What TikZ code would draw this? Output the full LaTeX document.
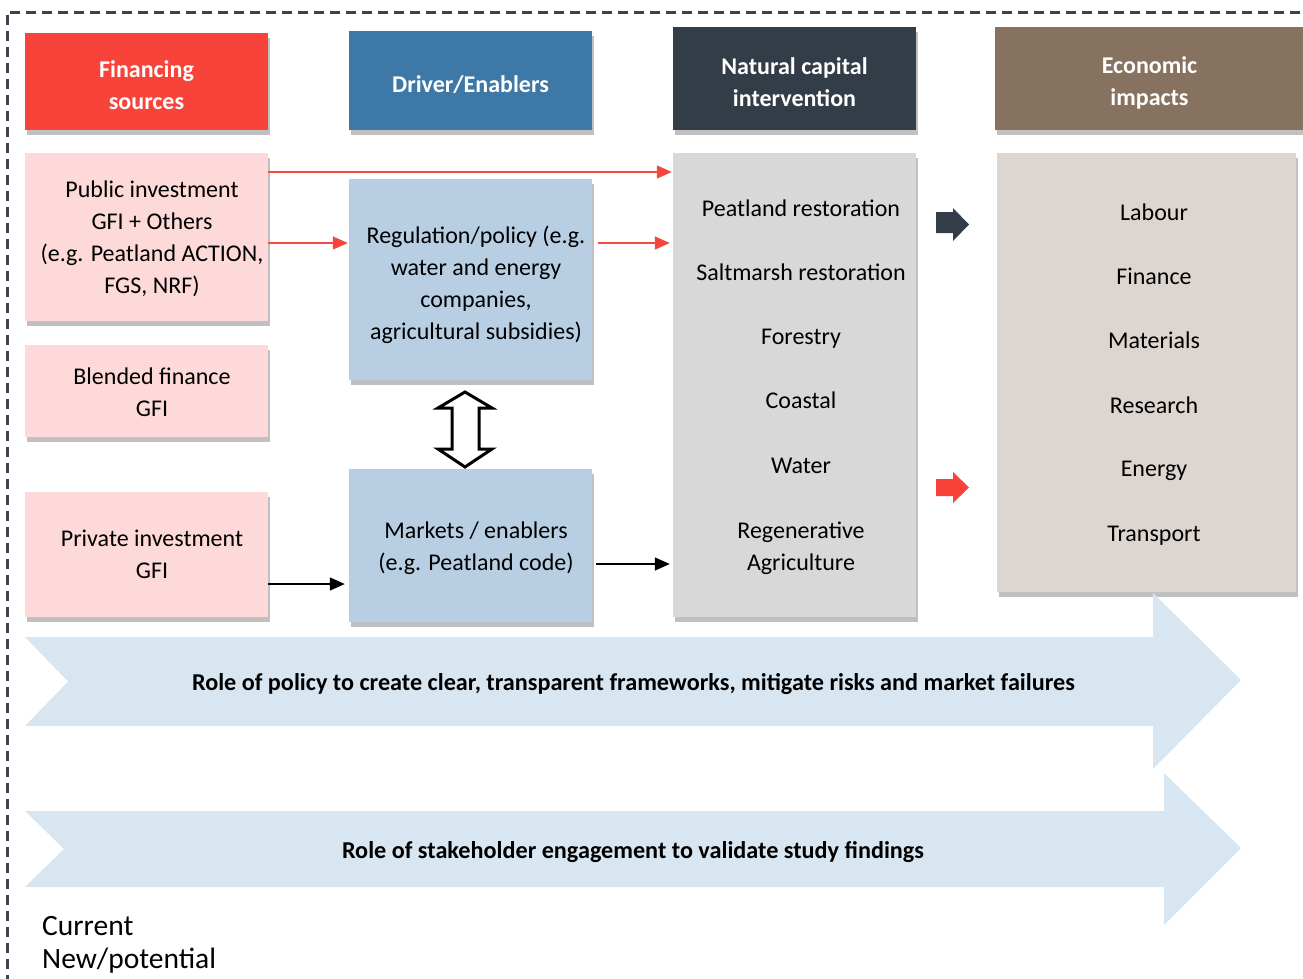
\documentclass[tikz,border=0pt]{standalone}
\usepackage{fontspec}
\setmainfont{Carlito}
\usetikzlibrary{arrows.meta,shadows}
\definecolor{hred}{HTML}{F8433B}
\definecolor{hblue}{HTML}{3E78A6}
\definecolor{hdark}{HTML}{333D48}
\definecolor{hbrown}{HTML}{86725F}
\definecolor{bpink}{HTML}{FDDAD9}
\definecolor{bblue}{HTML}{B8CFE3}
\definecolor{bgray}{HTML}{D8D8D8}
\definecolor{bbeige}{HTML}{DDD5D0}
\definecolor{banner}{HTML}{D7E6F0}
\definecolor{lred}{HTML}{F24A43}
\definecolor{framec}{HTML}{3B444C}
\begin{document}
\begin{tikzpicture}[x=1pt,y=-1pt,
  box/.style={rectangle, inner sep=0pt, draw=none,
    drop shadow={shadow xshift=2pt,shadow yshift=-5pt,opacity=0.45,fill=black!55}},
  hdrtxt/.style={inner sep=0pt, text=white, align=center, font=\fontsize{24}{32}\selectfont\bfseries},
  txt/.style={inner sep=0pt, align=center, text=black, font=\fontsize{24}{32}\selectfont},
  bantxt/.style={inner sep=0pt, align=center, text=black, font=\fontsize{24.2}{28}\selectfont\bfseries},
  legtxt/.style={inner sep=0pt, anchor=west, text=black, font=\fontsize{29.5}{34}\selectfont},
  redline/.style={draw=lred, line width=1.6pt, -{Triangle[length=15pt,width=13pt,fill=hred]}},
  blackline/.style={draw=black, line width=1.4pt, -{Triangle[length=15pt,width=13pt]}},
  bigarrow/.style={fill=banner, draw=none}
]
\useasboundingbox (0,0) rectangle (1303,978);
% frame
\draw[draw=framec, line width=3pt, dash pattern=on 10pt off 6pt] (7,985) -- (7,12) -- (1310,12);

% headers
\node[box, fill=hred, minimum width=243pt, minimum height=97pt] (h1) at (146.5,81.5) {};
\node[box, fill=hblue, minimum width=243pt, minimum height=99pt] (h2) at (470.5,80.5) {};
\node[box, fill=hdark, minimum width=243pt, minimum height=103pt] (h3) at (794.5,78.5) {};
\node[box, fill=hbrown, minimum width=308pt, minimum height=103pt] (h4) at (1149,78.5) {};
\node[hdrtxt] (h1t) at (146.5,85.5) {Financing\\sources};
\node[hdrtxt] (h2t) at (470.5,84.5) {Driver/Enablers};
\node[hdrtxt] (h3t) at (794.5,82.5) {Natural capital\\intervention};
\node[hdrtxt] (h4t) at (1149.5,82.5) {Economic\\impacts};

% boxes
\node[box, fill=bpink, minimum width=243pt, minimum height=168pt] (pub) at (146.5,237) {};
\node[box, fill=bpink, minimum width=243pt, minimum height=92pt] (blend) at (146.5,391) {};
\node[box, fill=bpink, minimum width=243pt, minimum height=125pt] (priv) at (146.5,554.5) {};
\node[box, fill=bblue, minimum width=243pt, minimum height=201pt] (reg) at (470.5,279.5) {};
\node[box, fill=bblue, minimum width=243pt, minimum height=153pt] (mkt) at (470.5,545.5) {};
\node[box, fill=bgray, minimum width=243pt, minimum height=464pt] (gray) at (794.5,385) {};
\node[box, fill=bbeige, minimum width=299pt, minimum height=439pt] (beige) at (1146.5,372.5) {};

% box texts
\node[txt] (pubt) at (152,239) {Public investment\\GFI + Others\\(e.g. Peatland ACTION,\\FGS, NRF)};
\node[txt] (blendt) at (152,392) {Blended finance\\GFI};
\node[txt] (privt) at (152,554) {Private investment\\GFI};
\node[txt] (regt) at (476,285) {Regulation/policy (e.g.\\water and energy\\companies,\\agricultural subsidies)};
\node[txt] (mktt) at (476,548) {Markets / enablers\\(e.g. Peatland code)};

% gray items
\node[txt] (g1) at (801,208) {Peatland restoration};
\node[txt] (g2) at (801,272) {Saltmarsh restoration};
\node[txt] (g3) at (801,339) {Forestry};
\node[txt] (g4) at (801,400) {Coastal};
\node[txt] (g5) at (801,466) {Water};
\node[txt] (g6) at (801,548.5) {Regenerative\\Agriculture};

% beige items
\node[txt] (e1) at (1154,212) {Labour};
\node[txt] (e2) at (1154,276) {Finance};
\node[txt] (e3) at (1154,340) {Materials};
\node[txt] (e4) at (1154,405) {Research};
\node[txt] (e5) at (1154,471) {Energy};
\node[txt] (e6) at (1154,536) {Transport};

% connectors
\coordinate (ya) at (0,172);
\coordinate (yb) at (0,243);
\coordinate (yc) at (0,584);
\coordinate (yd) at (0,564);
\draw[redline, shorten >=1pt] (pub.east |- ya) -- (gray.west |- ya);
\draw[redline, shorten >=1pt] (pub.east |- yb) -- (reg.west |- yb);
\draw[redline, shorten <=6pt, shorten >=3pt] (reg.east |- yb) -- (gray.west |- yb);
\draw[blackline, shorten >=4pt] (priv.east |- yc) -- (mkt.west |- yc);
\draw[blackline, shorten <=4pt, shorten >=3pt] (mkt.east |- yd) -- (gray.west |- yd);

% double arrow
\draw[black, line width=3pt, fill=white, line join=miter]
  (465,392) -- (492,408) -- (479,408) -- (479,449) -- (492,449) -- (465,467)
  -- (438,449) -- (452,449) -- (452,408) -- (438,408) -- cycle;

% small block arrows
\fill[hdark] (936,212) -- (953,212) -- (953,208) -- (969,224.5) -- (953,241) -- (953,233) -- (936,233) -- cycle;
\fill[hred] (936,479) -- (953,479) -- (953,472) -- (969,487.5) -- (953,503) -- (953,496) -- (936,496) -- cycle;

% banner arrows
\fill[bigarrow] (25,637) -- (1153,637) -- (1153,593) -- (1241,680) -- (1153,769) -- (1153,726) -- (25,726) -- (68,681.5) -- cycle;
\fill[bigarrow] (25,811) -- (1164,811) -- (1164,773) -- (1241,848) -- (1164,925) -- (1164,887) -- (25,887) -- (64,849) -- cycle;
\node[bantxt] (b1) at (633.5,684) {Role of policy to create clear, transparent frameworks, mitigate risks and market failures};
\node[bantxt] (b2) at (633,852) {Role of stakeholder engagement to validate study findings};

% legend
\node[legtxt] (l1) at (42,926) {Current};
\node[legtxt] (l2) at (42,961) {New/potential};
\end{tikzpicture}
\end{document}
